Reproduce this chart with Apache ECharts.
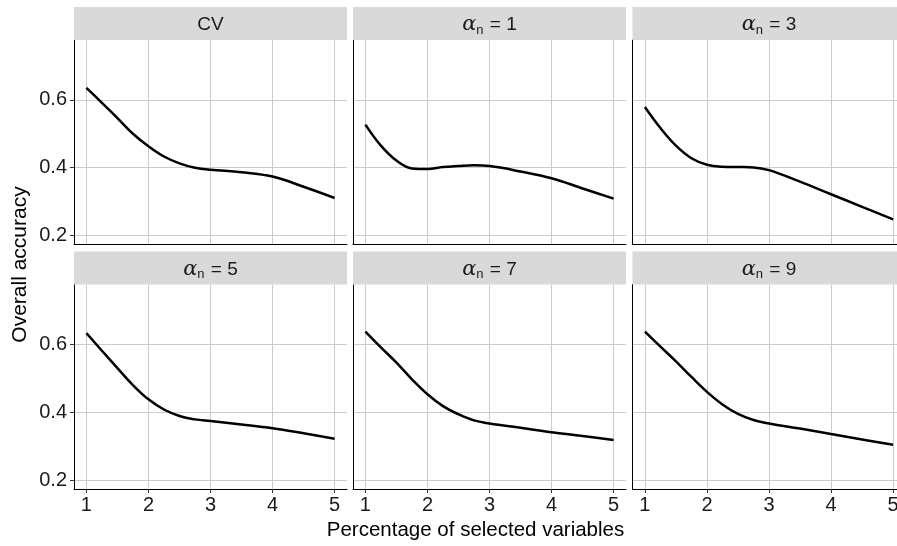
<!DOCTYPE html>
<html>
<head>
<meta charset="utf-8">
<script src="https://cdn.jsdelivr.net/npm/echarts@6/dist/echarts.min.js"></script>
<style>
  html, body { margin: 0; padding: 0; background: #fff; }
  #chart { width: 897px; height: 546px; }
</style>
</head>
<body>
<div id="chart"></div>
<script>
// percentage of selected variables (x)
const xs = [1, 1.25, 1.5, 1.75, 2, 2.25, 2.5, 2.75, 3, 3.5, 4, 4.5, 5];
// overall accuracy for each panel
const cv = [0.635, 0.591, 0.546, 0.500, 0.463, 0.433, 0.413, 0.400, 0.394, 0.387, 0.374, 0.344, 0.311];
const alpha1 = [0.527, 0.465, 0.421, 0.398, 0.396, 0.402, 0.405, 0.407, 0.405, 0.389, 0.369, 0.339, 0.309];
const alpha3 = [0.579, 0.517, 0.465, 0.428, 0.409, 0.403, 0.402, 0.401, 0.393, 0.359, 0.322, 0.285, 0.248];
const alpha5 = [0.633, 0.581, 0.530, 0.480, 0.438, 0.408, 0.389, 0.379, 0.374, 0.364, 0.353, 0.338, 0.322];
const alpha7 = [0.637, 0.591, 0.546, 0.497, 0.453, 0.418, 0.394, 0.376, 0.367, 0.354, 0.341, 0.330, 0.318];
const alpha9 = [0.637, 0.593, 0.550, 0.504, 0.460, 0.423, 0.395, 0.377, 0.367, 0.352, 0.336, 0.320, 0.304];
const panelNames = ['CV', '1', '3', '5', '7', '9'];
const xTicks = [1, 2, 3, 4, 5];
const yTicks = [0.2, 0.4, 0.6];

const panelData = [cv, alpha1, alpha3, alpha5, alpha7, alpha9];

const font = 'Liberation Sans, Arial, sans-serif';
const colLeft = [74, 353, 632.5];
const rowTop = [40, 284.5];
const panelW = 273, panelH = 204.5, stripH = 33;
const W = 897;

const chart = echarts.init(document.getElementById('chart'));

const grids = [], xAxes = [], yAxes = [], series = [], graphics = [];

panelData.forEach(function (vals, i) {
  const col = i % 3, row = Math.floor(i / 3);
  grids.push({
    left: colLeft[col], top: rowTop[row],
    right: W - colLeft[col] - panelW, height: panelH,
    outerBoundsMode: 'none', containLabel: false
  });

  xAxes.push({
    gridIndex: i, type: 'value', min: 0.8, max: 5.2,
    axisLine: { show: true, onZero: false, lineStyle: { color: '#000', width: 1 } },
    axisTick: { show: row === 1, length: 4, customValues: xTicks, lineStyle: { color: '#333' } },
    axisLabel: { show: row === 1, customValues: xTicks, margin: 6, fontSize: 20, fontFamily: font, color: '#1a1a1a' },
    splitLine: { show: true, customValues: xTicks, lineStyle: { color: '#cccccc', width: 1 } }
  });

  yAxes.push({
    gridIndex: i, type: 'value', min: 0.174, max: 0.776,
    axisLine: { show: true, lineStyle: { color: '#000', width: 1 } },
    axisTick: { show: col === 0, length: 4, customValues: yTicks, lineStyle: { color: '#333' } },
    axisLabel: { show: col === 0, customValues: yTicks, margin: 7, fontSize: 20, fontFamily: font, color: '#1a1a1a',
      formatter: function (v) { return v.toFixed(1); } },
    splitLine: { show: true, customValues: yTicks, lineStyle: { color: '#cccccc', width: 1 } }
  });

  series.push({
    type: 'line', xAxisIndex: i, yAxisIndex: i,
    data: xs.map(function (x, j) { return [x, vals[j]]; }),
    smooth: 0.4, showSymbol: false, silent: true,
    lineStyle: { color: '#000', width: 2.5 }
  });

  // strip header
  const sx = colLeft[col], sy = rowTop[row] - stripH;
  graphics.push({
    type: 'rect', z: 10,
    shape: { x: sx, y: sy, width: panelW, height: stripH },
    style: { fill: '#d9d9d9' }
  });
  const label = i === 0 ? 'CV' : '{a|α}{s|n}{b| = ' + panelNames[i] + '}';
  graphics.push({
    type: 'text', z: 11,
    x: sx + panelW / 2, y: sy + stripH / 2 + 1.5,
    style: {
      text: label, fontSize: 19, fontFamily: font, fill: '#1a1a1a',
      align: 'center', verticalAlign: 'middle',
      rich: {
        a: { fontSize: 21, fontFamily: 'DejaVu Serif, serif', fontStyle: 'italic', fill: '#1a1a1a' },
        s: { fontSize: 13, fontFamily: font, fill: '#1a1a1a', padding: [10, 1, 0, 0] },
        b: { fontSize: 19, fontFamily: font, fill: '#1a1a1a' }
      }
    }
  });
});

// shared axis titles
graphics.push({
  type: 'text', x: 20, y: 264.5, rotation: Math.PI / 2,
  style: { text: 'Overall accuracy', fontSize: 21, fontFamily: font, fill: '#000', align: 'center', verticalAlign: 'middle' }
});
graphics.push({
  type: 'text', x: 475.5, y: 530,
  style: { text: 'Percentage of selected variables', fontSize: 20.5, fontFamily: font, fill: '#000', align: 'center', verticalAlign: 'middle' }
});

chart.setOption({
  animation: false,
  backgroundColor: '#fff',
  grid: grids,
  xAxis: xAxes,
  yAxis: yAxes,
  series: series,
  graphic: graphics
});
</script>
</body>
</html>
